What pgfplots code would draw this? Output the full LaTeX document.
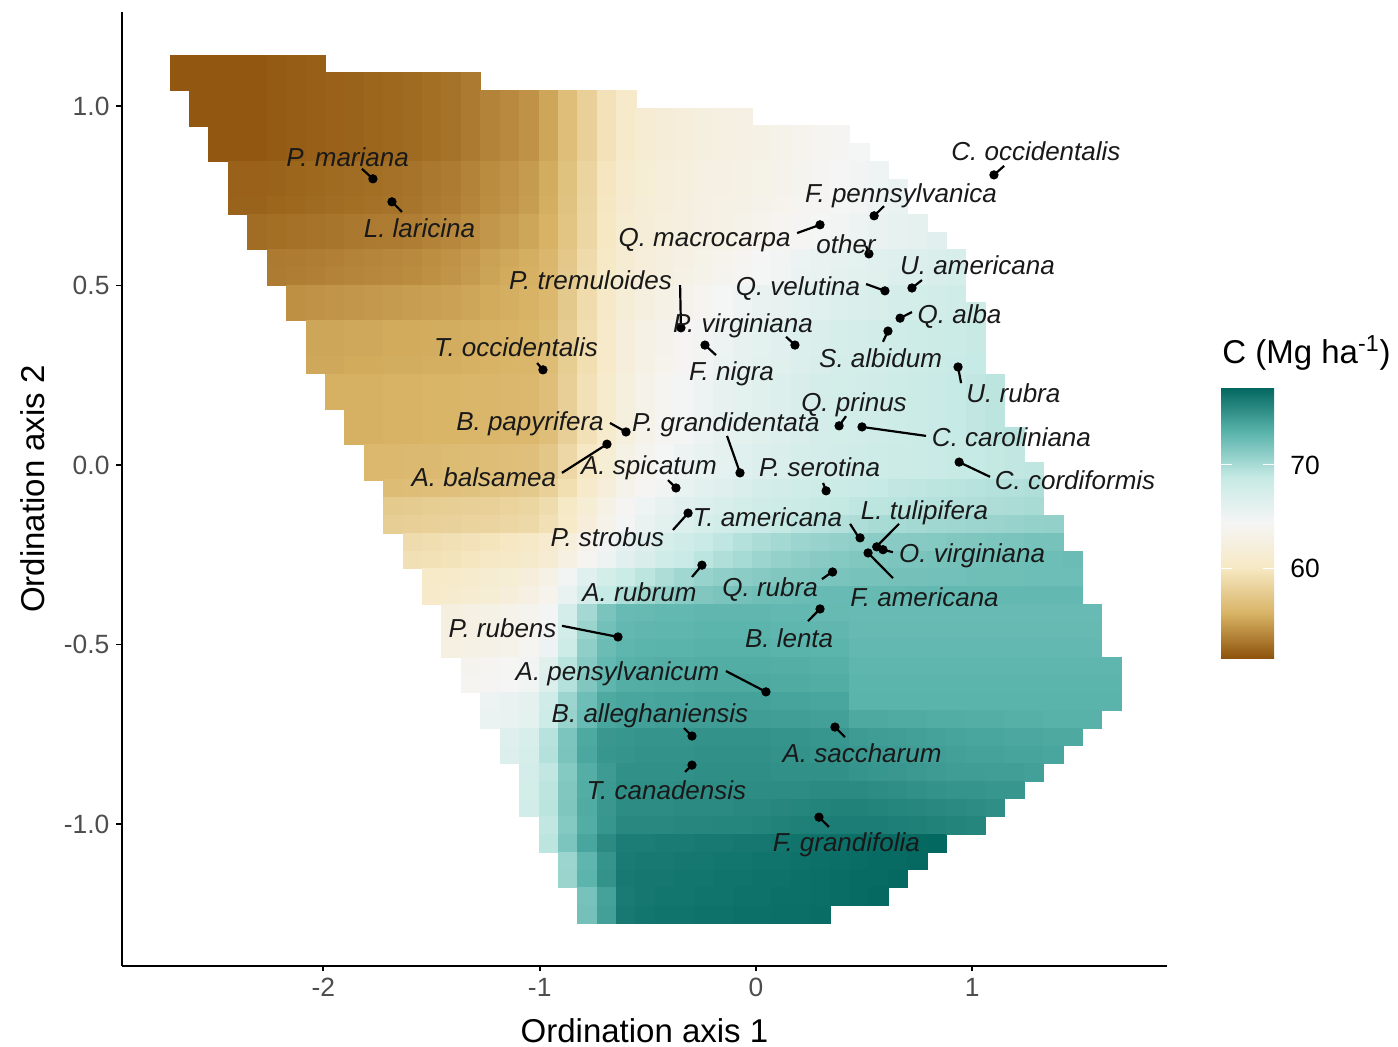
\documentclass[border=0pt]{standalone}
\usepackage{pgfplots}
\pgfplotsset{compat=1.18}
\usepackage{pgfplotstable}
\usepackage{fontspec}
\setmainfont{Liberation Sans}
\definecolor{tickgray}{RGB}{77,77,77}

\pgfplotstableread{
y c0 c1 c2 c3 c4 c5 c6 c7 c8 c9 c10 c11 c12 c13 c14 c15 c16 c17 c18 c19 c20 c21 c22 c23 c24 c25 c26 c27 c28 c29 c30 c31 c32 c33 c34 c35 c36 c37 c38 c39 c40 c41 c42 c43 c44 c45 c46 c47 c48
1.117 51.5 51.5 51.5 51.5 51.5 51.6 51.7 51.8 nan nan nan nan nan  nan nan nan nan nan  nan nan nan nan nan  nan nan nan nan nan  nan nan nan nan nan  nan nan nan nan nan  nan nan nan nan nan  nan nan nan nan nan  nan
1.068 51.5 51.5 51.5 51.5 51.5 51.6 51.7 51.8 51.9 52.0 52.1 52.2 52.3 52.5 52.7 53.0 nan nan nan nan nan  nan nan nan nan nan  nan nan nan nan nan  nan nan nan nan nan  nan nan nan nan nan  nan nan nan nan nan  nan nan nan
1.019 nan 51.5 51.5 51.5 51.5 51.6 51.7 51.8 51.9 52.0 52.1 52.2 52.3 52.5 52.7 53.0 53.4 53.7 54.1 55.0 56.5 58.0 59.5 60.7 nan nan nan nan nan  nan nan nan nan nan  nan nan nan nan nan  nan nan nan nan nan  nan nan nan nan nan
0.969 nan 51.5 51.5 51.5 51.5 51.6 51.7 51.8 51.9 52.0 52.1 52.2 52.3 52.5 52.7 53.0 53.4 53.7 54.1 55.0 56.5 58.0 59.5 60.7 61.4 61.8 62.1 62.4 62.6 62.8 nan nan nan nan nan  nan nan nan nan nan  nan nan nan nan nan  nan nan nan nan
0.920 nan nan 51.5 51.5 51.5 51.6 51.7 51.8 51.9 52.0 52.1 52.2 52.3 52.5 52.7 53.0 53.4 53.7 54.1 55.0 56.5 58.0 59.5 60.7 61.4 61.8 62.1 62.4 62.6 62.8 63.0 63.3 63.6 63.9 64.2 nan nan nan nan nan  nan nan nan nan nan  nan nan nan nan
0.871 nan nan 51.5 51.5 51.5 51.6 51.7 51.8 51.9 52.0 52.1 52.2 52.3 52.5 52.7 53.0 53.4 53.7 54.1 55.0 56.5 58.0 59.5 60.7 61.4 61.8 62.1 62.4 62.6 62.8 63.0 63.3 63.6 63.9 64.2 64.5 nan nan nan nan nan  nan nan nan nan nan  nan nan nan
0.821 nan nan nan 51.9 51.9 52.0 52.1 52.2 52.3 52.4 52.5 52.6 52.7 52.9 53.1 53.4 53.8 54.1 54.5 55.3 56.8 58.3 59.8 61.0 61.6 62.0 62.3 62.6 62.8 63.0 63.2 63.5 63.8 64.1 64.4 64.7 65.0 nan nan nan nan nan  nan nan nan nan nan  nan nan
0.772 nan nan nan 51.9 51.9 52.0 52.1 52.2 52.3 52.4 52.5 52.6 52.7 52.9 53.1 53.4 53.8 54.1 54.5 55.3 56.8 58.3 59.8 61.0 61.6 62.0 62.3 62.6 62.8 63.0 63.2 63.5 63.8 64.1 64.4 64.7 65.0 65.3 nan nan nan nan nan  nan nan nan nan nan  nan
0.723 nan nan nan 52.0 52.0 52.1 52.2 52.3 52.4 52.5 52.6 52.7 52.8 53.0 53.2 53.5 53.9 54.2 54.6 55.4 56.9 58.4 59.9 61.1 61.7 62.1 62.4 62.7 62.9 63.1 63.3 63.6 63.9 64.2 64.5 64.8 65.1 65.4 nan nan nan nan nan  nan nan nan nan nan  nan
0.673 nan nan nan nan 52.4 52.5 52.6 52.7 52.8 52.9 53.0 53.1 53.2 53.4 53.6 53.9 54.3 54.6 55.0 55.6 57.0 58.5 60.0 61.2 61.8 62.2 62.5 62.8 63.0 63.3 63.6 63.9 64.2 64.5 64.8 65.1 65.4 65.7 66.0 nan nan nan nan nan  nan nan nan nan nan
0.624 nan nan nan nan 52.4 52.5 52.6 52.7 52.8 52.9 53.0 53.1 53.2 53.4 53.6 53.9 54.3 54.6 55.0 55.6 57.0 58.5 60.0 61.2 61.8 62.2 62.5 62.8 63.0 63.3 63.6 63.9 64.2 64.5 64.8 65.1 65.4 65.7 66.0 66.3 nan nan nan nan nan  nan nan nan nan
0.575 nan nan nan nan nan 53.0 53.1 53.2 53.3 53.4 53.5 53.6 53.7 53.9 54.1 54.4 54.8 55.1 55.4 55.9 57.3 58.8 60.2 61.4 62.0 62.4 62.8 63.2 63.6 64.0 64.4 64.8 65.2 65.5 65.8 66.1 66.4 66.6 66.8 67.0 67.2 nan nan nan nan nan  nan nan nan
0.525 nan nan nan nan nan 53.1 53.2 53.3 53.4 53.5 53.6 53.7 53.8 54.0 54.2 54.5 54.9 55.2 55.5 56.0 57.4 58.9 60.3 61.5 62.1 62.5 62.9 63.3 63.7 64.1 64.5 64.9 65.3 65.6 65.9 66.2 66.5 66.7 66.9 67.1 67.3 nan nan nan nan nan  nan nan nan
0.476 nan nan nan nan nan nan 54.0 54.1 54.2 54.3 54.4 54.5 54.6 54.7 54.8 55.0 55.2 55.4 55.6 56.0 57.4 58.9 60.4 61.7 62.5 63.0 63.5 64.0 64.5 65.0 65.4 65.8 66.1 66.4 66.7 67.0 67.2 67.4 67.6 67.8 68.0 nan nan nan nan nan  nan nan nan
0.427 nan nan nan nan nan nan 54.0 54.1 54.2 54.3 54.4 54.5 54.6 54.7 54.8 55.0 55.2 55.4 55.6 56.0 57.4 58.9 60.4 61.7 62.5 63.0 63.5 64.0 64.5 65.0 65.4 65.8 66.1 66.4 66.7 67.0 67.2 67.4 67.6 67.8 68.0 68.2 nan nan nan nan nan  nan nan
0.377 nan nan nan nan nan nan nan 55.0 55.0 55.1 55.1 55.2 55.2 55.3 55.3 55.4 55.5 55.6 55.7 56.2 57.6 59.1 60.6 62.0 62.9 63.5 64.1 64.7 65.2 65.7 66.1 66.4 66.7 67.0 67.3 67.5 67.7 67.9 68.1 68.3 68.5 68.7 nan nan nan nan nan  nan nan
0.328 nan nan nan nan nan nan nan 55.0 55.0 55.1 55.1 55.2 55.2 55.3 55.3 55.4 55.5 55.6 55.7 56.2 57.6 59.1 60.6 62.0 62.9 63.5 64.1 64.7 65.2 65.7 66.1 66.4 66.7 67.0 67.3 67.5 67.7 67.9 68.1 68.3 68.5 68.7 nan nan nan nan nan  nan nan
0.279 nan nan nan nan nan nan nan 55.1 55.1 55.2 55.2 55.3 55.3 55.4 55.4 55.5 55.6 55.7 55.8 56.3 57.7 59.2 60.7 62.1 63.0 63.6 64.2 64.8 65.3 65.8 66.2 66.5 66.8 67.1 67.4 67.6 67.8 68.0 68.2 68.4 68.6 68.8 nan nan nan nan nan  nan nan
0.229 nan nan nan nan nan nan nan nan 55.5 55.5 55.5 55.6 55.6 55.7 55.7 55.8 55.8 55.9 56.0 56.5 57.9 59.4 60.9 62.3 63.3 64.0 64.6 65.2 65.7 66.1 66.5 66.8 67.1 67.4 67.6 67.8 68.0 68.2 68.4 68.6 68.8 69.0 69.2 nan nan nan nan nan  nan
0.180 nan nan nan nan nan nan nan nan 55.5 55.5 55.5 55.6 55.6 55.7 55.7 55.8 55.8 55.9 56.0 56.5 57.9 59.4 60.9 62.3 63.3 64.0 64.6 65.2 65.7 66.1 66.5 66.8 67.1 67.4 67.6 67.8 68.0 68.2 68.4 68.6 68.8 69.0 69.2 nan nan nan nan nan  nan
0.131 nan nan nan nan nan nan nan nan nan 55.5 55.5 55.6 55.6 55.7 55.7 55.8 55.8 55.9 56.0 56.5 57.9 59.4 60.9 62.3 63.3 64.0 64.6 65.2 65.7 66.1 66.5 66.8 67.1 67.4 67.6 67.8 68.0 68.2 68.4 68.6 68.8 69.0 69.2 nan nan nan nan nan  nan
0.081 nan nan nan nan nan nan nan nan nan 55.5 55.5 55.6 55.6 55.7 55.7 55.8 55.8 55.9 56.0 56.5 57.9 59.4 60.9 62.3 63.3 64.0 64.6 65.2 65.7 66.1 66.5 66.8 67.1 67.4 67.6 67.8 68.0 68.2 68.4 68.6 68.8 69.0 69.2 69.4 nan nan nan nan nan
0.032 nan nan nan nan nan nan nan nan nan nan 56.0 56.0 56.1 56.1 56.2 56.3 56.4 56.5 56.6 57.2 58.6 60.1 61.6 63.0 63.8 64.5 65.1 65.6 66.0 66.4 66.7 67.0 67.3 67.5 67.7 67.9 68.1 68.3 68.5 68.6 68.7 68.8 68.9 69.0 nan nan nan nan nan
-0.017 nan nan nan nan nan nan nan nan nan nan 56.0 56.0 56.1 56.1 56.2 56.3 56.4 56.5 56.6 57.2 58.6 60.1 61.6 63.0 63.8 64.5 65.1 65.6 66.0 66.4 66.7 67.0 67.3 67.5 67.7 67.9 68.1 68.3 68.5 68.6 68.7 68.8 68.9 69.0 69.1 nan nan nan nan
-0.066 nan nan nan nan nan nan nan nan nan nan nan 56.3 56.4 56.5 56.6 56.8 57.0 57.2 57.4 58.0 59.2 60.6 62.0 63.3 64.2 64.9 65.6 66.2 66.6 67.0 67.4 67.7 68.0 68.2 68.4 68.6 68.8 69.0 69.1 69.2 69.3 69.4 69.5 69.6 69.7 nan nan nan nan
-0.116 nan nan nan nan nan nan nan nan nan nan nan 57.5 57.6 57.7 57.8 57.9 58.0 58.2 58.4 59.0 60.2 61.6 63.0 64.2 65.0 65.7 66.3 66.8 67.2 67.6 67.9 68.2 68.5 68.7 68.9 69.1 69.2 69.3 69.4 69.5 69.6 69.7 69.8 69.9 70.0 nan nan nan nan
-0.165 nan nan nan nan nan nan nan nan nan nan nan 57.8 57.9 58.0 58.1 58.2 58.3 58.5 58.7 59.3 60.5 62.0 63.4 64.6 65.5 66.2 66.8 67.3 67.8 68.2 68.6 68.9 69.2 69.4 69.6 69.8 70.0 70.1 70.2 70.3 70.4 70.5 70.6 70.7 70.8 70.9 nan nan nan
-0.215 nan nan nan nan nan nan nan nan nan nan nan nan 59.0 59.1 59.3 59.5 59.7 60.0 60.4 61.0 62.2 63.5 64.7 65.8 66.6 67.3 68.0 68.6 69.1 69.5 69.9 70.2 70.5 70.7 70.9 71.1 71.2 71.3 71.4 71.5 71.6 71.7 71.8 71.9 72.0 72.0 nan nan nan
-0.264 nan nan nan nan nan nan nan nan nan nan nan nan 59.3 59.4 59.6 59.8 60.1 60.4 60.8 61.5 62.7 64.0 65.2 66.3 67.1 67.9 68.6 69.2 69.7 70.1 70.5 70.8 71.1 71.3 71.5 71.6 71.7 71.8 71.9 72.0 72.1 72.2 72.3 72.3 72.4 72.4 72.5 nan nan
-0.313 nan nan nan nan nan nan nan nan nan nan nan nan nan 60.5 60.7 60.9 61.2 61.6 62.1 63.0 64.8 66.4 67.6 68.5 69.2 69.8 70.3 70.7 71.0 71.2 71.4 71.6 71.7 71.8 71.9 72.0 72.0 72.1 72.1 72.2 72.2 72.3 72.3 72.3 72.4 72.4 72.4 nan nan
-0.363 nan nan nan nan nan nan nan nan nan nan nan nan nan 60.7 60.9 61.2 61.6 62.1 62.7 63.6 65.6 67.4 68.8 69.8 70.4 70.9 71.3 71.6 71.9 72.1 72.3 72.4 72.5 72.6 72.6 72.7 72.7 72.7 72.8 72.8 72.8 72.8 72.8 72.8 72.8 72.8 72.8 nan nan
-0.412 nan nan nan nan nan nan nan nan nan nan nan nan nan nan 62.5 62.8 63.0 63.3 63.8 64.6 67.4 70.2 71.9 72.6 72.7 72.8 72.8 72.9 72.9 72.9 72.9 72.8 72.8 72.7 72.7 72.6 72.6 72.6 72.6 72.6 72.6 72.6 72.6 72.6 72.6 72.6 72.6 72.6 nan
-0.461 nan nan nan nan nan nan nan nan nan nan nan nan nan nan 62.5 62.8 63.0 63.3 63.8 64.8 67.8 70.6 72.2 72.8 72.9 73.0 73.0 73.1 73.1 73.1 73.1 73.0 73.0 72.9 72.9 72.7 72.7 72.7 72.7 72.7 72.7 72.7 72.7 72.7 72.7 72.7 72.7 72.7 nan
-0.511 nan nan nan nan nan nan nan nan nan nan nan nan nan nan 62.6 62.9 63.1 63.4 63.9 65.2 68.2 71.0 72.5 73.0 73.1 73.2 73.2 73.3 73.3 73.3 73.3 73.2 73.2 73.1 73.1 72.8 72.8 72.8 72.8 72.8 72.8 72.8 72.8 72.8 72.8 72.8 72.8 72.8 nan
-0.560 nan nan nan nan nan nan nan nan nan nan nan nan nan nan nan 63.8 64.0 64.3 64.8 66.5 69.3 71.4 72.8 73.3 73.4 73.5 73.5 73.6 73.6 73.6 73.6 73.5 73.5 73.4 73.4 73.0 73.0 73.0 73.0 73.0 73.0 73.0 73.0 73.0 73.0 73.0 73.0 73.0 73.0
-0.609 nan nan nan nan nan nan nan nan nan nan nan nan nan nan nan 63.9 64.1 64.4 64.9 66.7 69.5 71.6 73.0 73.5 73.6 73.7 73.7 73.8 73.8 73.8 73.8 73.7 73.7 73.6 73.6 73.1 73.1 73.1 73.1 73.1 73.1 73.1 73.1 73.1 73.1 73.1 73.1 73.1 73.1
-0.659 nan nan nan nan nan nan nan nan nan nan nan nan nan nan nan nan 65.2 65.5 66.0 68.0 70.5 72.4 73.8 74.0 74.0 74.1 74.1 74.2 74.2 74.2 74.2 74.1 74.1 74.0 74.0 73.2 73.2 73.2 73.2 73.2 73.2 73.2 73.2 73.2 73.2 73.2 73.2 73.2 73.2
-0.708 nan nan nan nan nan nan nan nan nan nan nan nan nan nan nan nan 65.3 65.6 66.1 68.2 70.7 72.6 74.0 74.2 74.3 74.4 74.4 74.5 74.5 74.5 74.5 74.4 74.4 74.3 74.3 73.8 73.8 73.7 73.7 73.6 73.6 73.5 73.5 73.4 73.4 73.3 73.3 73.3 nan
-0.757 nan nan nan nan nan nan nan nan nan nan nan nan nan nan nan nan nan 66.6 67.2 69.4 71.8 73.8 74.8 74.9 75.0 75.0 75.0 75.1 75.1 75.1 75.1 75.0 75.0 74.9 74.9 74.6 74.5 74.4 74.3 74.2 74.1 74.0 74.0 73.9 73.9 73.8 73.8 nan nan
-0.807 nan nan nan nan nan nan nan nan nan nan nan nan nan nan nan nan nan 66.7 67.3 69.5 71.9 73.9 74.9 75.0 75.1 75.1 75.1 75.2 75.2 75.2 75.2 75.1 75.1 75.0 75.0 74.8 74.7 74.6 74.5 74.4 74.3 74.2 74.2 74.1 74.1 74.0 nan nan nan
-0.856 nan nan nan nan nan nan nan nan nan nan nan nan nan nan nan nan nan nan 67.5 69.0 71.5 73.5 74.6 75.2 75.2 75.2 75.2 75.3 75.3 75.3 75.3 75.2 75.2 75.2 75.2 75.0 74.9 74.8 74.7 74.6 74.5 74.5 74.4 74.4 74.3 nan nan nan nan
-0.905 nan nan nan nan nan nan nan nan nan nan nan nan nan nan nan nan nan nan 67.6 69.2 71.6 73.6 74.7 75.3 75.3 75.3 75.4 75.4 75.4 75.4 75.4 75.4 75.4 75.5 75.5 75.5 75.4 75.3 75.2 75.1 75.0 75.0 74.9 74.9 nan nan nan nan nan
-0.955 nan nan nan nan nan nan nan nan nan nan nan nan nan nan nan nan nan nan 67.7 69.3 71.7 73.7 74.8 75.4 75.4 75.4 75.5 75.5 75.5 75.6 75.6 75.7 75.8 75.9 76.0 76.0 75.9 75.8 75.7 75.6 75.5 75.4 75.3 nan nan nan nan nan nan
-1.004 nan nan nan nan nan nan nan nan nan nan nan nan nan nan nan nan nan nan nan 69.0 71.5 73.6 74.9 75.6 75.6 75.6 75.7 75.7 75.8 75.8 75.9 76.0 76.1 76.2 76.3 76.3 76.3 76.2 76.1 76.0 75.9 75.8 nan nan nan nan nan nan nan
-1.053 nan nan nan nan nan nan nan nan nan nan nan nan nan nan nan nan nan nan nan 69.2 71.8 74.0 75.5 76.3 76.3 76.4 76.4 76.5 76.5 76.6 76.6 76.7 76.8 76.9 77.0 77.1 77.2 77.3 77.4 77.5 nan nan nan nan nan nan nan nan nan
-1.103 nan nan nan nan nan nan nan nan nan nan nan nan nan nan nan nan nan nan nan nan 70.5 73.0 75.0 76.4 76.5 76.5 76.6 76.6 76.7 76.7 76.8 76.8 76.9 77.0 77.1 77.2 77.3 77.3 77.4 nan nan nan nan nan nan nan nan nan nan
-1.152 nan nan nan nan nan nan nan nan nan nan nan nan nan nan nan nan nan nan nan nan 70.6 73.1 75.1 76.5 76.6 76.6 76.7 76.7 76.8 76.8 76.9 76.9 77.0 77.1 77.2 77.3 77.3 77.4 nan nan nan nan nan nan nan nan nan nan nan
-1.201 nan nan nan nan nan nan nan nan nan nan nan nan nan nan nan nan nan nan nan nan nan 72.0 74.2 76.4 76.6 76.7 76.7 76.8 76.8 76.9 76.9 77.0 77.0 77.1 77.2 77.3 77.4 nan nan nan nan nan nan nan nan nan nan nan nan
-1.251 nan nan nan nan nan nan nan nan nan nan nan nan nan nan nan nan nan nan nan nan nan 72.1 74.3 76.5 76.7 76.8 76.8 76.9 76.9 77.0 77.0 77.1 77.1 77.2 nan nan nan nan nan nan nan nan nan nan nan nan nan nan nan
}\rast

\pgfplotsset{
  cell/.style={scatter, only marks, mark=square*, mark size=4.43pt,
    scatter/use mapped color={draw=mapped color, fill=mapped color},
    mark options={xscale=1.096, line width=0.35pt}, point meta=explicit},
  seg/.style={black, line width=1.1pt, no marks},
}
\tikzset{lab/.style={font=\fontsize{13}{15}\selectfont\itshape, inner sep=0pt, text height=9.3pt, text depth=0pt, text=black!90}}
% empty cells (nan) are dropped: nan - nan + y stays nan, a value v gives v - v + y = y
\newcommand{\col}[2]{\addplot[cell] table[x expr=#1, y expr={\thisrow{#2}-\thisrow{#2}+\thisrow{y}}, meta=#2]{\rast};}

\begin{document}
\begin{tikzpicture}
\begin{axis}[name=main, scale only axis, width=522.5pt, height=477pt,
  xmin=-2.931, xmax=1.900, ymin=-1.3955, ymax=1.2618,
  clip marker paths=true,
  axis lines=left, axis line style={-, black, line width=1pt},
  tick align=outside, major tick length=2.75pt, tick style={black, line width=0.9pt},
  xtick={-2,-1,0,1}, xticklabels={-2,-1,0,1},
  ytick={-1,-0.5,0,0.5,1}, yticklabels={-1.0,-0.5,0.0,0.5,1.0},
  ticklabel style={font=\fontsize{13.2}{15}\selectfont, text=tickgray},
  xlabel={Ordination axis 1}, ylabel={Ordination axis 2},
  label style={font=\fontsize{16.5}{19}\selectfont, inner sep=0pt},
  xlabel style={at={(axis description cs:0.5,-0.0545)}, anchor=north},
  ylabel style={at={(axis description cs:-0.0737,0.5)}, anchor=south},
  colormap={brbg}{rgb255=(140,81,10) rgb255=(216,179,101) rgb255=(246,232,195) rgb255=(245,245,245) rgb255=(199,234,229) rgb255=(90,180,172) rgb255=(1,102,94)},
  point meta min=51.17, point meta max=77.57,
  colorbar, colorbar/width=26.5pt,
  colorbar style={at={(parent axis.north east)}, anchor=north west,
    xshift=18.5pt, yshift=-187.5pt, scale only axis, width=26.5pt, height=136pt,
    ytick={60,70}, yticklabels={60,70}, yticklabel pos=right, ytick pos=both,
    tick align=inside, major tick length=5.5pt, tick style={white, line width=0.5pt},
    axis line style={draw=none},
    yticklabel style={font=\fontsize{13.2}{15}\selectfont, text=black, xshift=4.6pt}},
  filter discard warning=false, unbounded coords=discard,
]
\col{-2.664}{c0}
\col{-2.574}{c1}
\col{-2.485}{c2}
\col{-2.395}{c3}
\col{-2.305}{c4}
\col{-2.215}{c5}
\col{-2.126}{c6}
\col{-2.036}{c7}
\col{-1.946}{c8}
\col{-1.857}{c9}
\col{-1.767}{c10}
\col{-1.677}{c11}
\col{-1.587}{c12}
\col{-1.498}{c13}
\col{-1.408}{c14}
\col{-1.318}{c15}
\col{-1.228}{c16}
\col{-1.139}{c17}
\col{-1.049}{c18}
\col{-0.959}{c19}
\col{-0.869}{c20}
\col{-0.780}{c21}
\col{-0.690}{c22}
\col{-0.600}{c23}
\col{-0.511}{c24}
\col{-0.421}{c25}
\col{-0.331}{c26}
\col{-0.241}{c27}
\col{-0.152}{c28}
\col{-0.062}{c29}
\col{0.028}{c30}
\col{0.118}{c31}
\col{0.207}{c32}
\col{0.297}{c33}
\col{0.387}{c34}
\col{0.477}{c35}
\col{0.566}{c36}
\col{0.656}{c37}
\col{0.746}{c38}
\col{0.835}{c39}
\col{0.925}{c40}
\col{1.015}{c41}
\col{1.105}{c42}
\col{1.194}{c43}
\col{1.284}{c44}
\col{1.374}{c45}
\col{1.464}{c46}
\col{1.553}{c47}
\col{1.643}{c48}

\addplot[seg] coordinates {(-1.771,0.797)(-1.822,0.825)};
\addplot[seg] coordinates {(-1.683,0.733)(-1.637,0.705)};
\addplot[seg] coordinates {(0.296,0.669)(0.190,0.646)};
\addplot[seg] coordinates {(0.546,0.694)(0.592,0.721)};
\addplot[seg] coordinates {(1.100,0.808)(1.147,0.833)};
\addplot[seg] coordinates {(0.522,0.588)(0.509,0.610)};
\addplot[seg] coordinates {(0.721,0.493)(0.767,0.515)};
\addplot[seg] coordinates {(0.596,0.485)(0.509,0.504)};
\addplot[seg] coordinates {(-0.347,0.382)(-0.351,0.501)};
\addplot[seg] coordinates {(0.666,0.409)(0.721,0.426)};
\addplot[seg] coordinates {(0.180,0.334)(0.139,0.357)};
\addplot[seg] coordinates {(-0.985,0.265)(-1.012,0.284)};
\addplot[seg] coordinates {(0.610,0.373)(0.587,0.343)};
\addplot[seg] coordinates {(-0.236,0.334)(-0.185,0.306)};
\addplot[seg] coordinates {(0.934,0.273)(0.948,0.228)};
\addplot[seg] coordinates {(0.384,0.109)(0.416,0.136)};
\addplot[seg] coordinates {(-0.601,0.092)(-0.675,0.117)};
\addplot[seg] coordinates {(-0.074,-0.022)(-0.134,0.081)};
\addplot[seg] coordinates {(0.490,0.106)(0.786,0.081)};
\addplot[seg] coordinates {(-0.370,-0.064)(-0.407,-0.042)};
\addplot[seg] coordinates {(0.324,-0.072)(0.310,-0.050)};
\addplot[seg] coordinates {(-0.689,0.058)(-0.897,-0.022)};
\addplot[seg] coordinates {(0.939,0.008)(1.082,-0.033)};
\addplot[seg] coordinates {(0.476,-0.203)(0.435,-0.164)};
\addplot[seg] coordinates {(0.559,-0.226)(0.661,-0.164)};
\addplot[seg] coordinates {(-0.314,-0.134)(-0.384,-0.181)};
\addplot[seg] coordinates {(0.587,-0.236)(0.633,-0.243)};
\addplot[seg] coordinates {(-0.250,-0.279)(-0.296,-0.312)};
\addplot[seg] coordinates {(0.351,-0.298)(0.305,-0.318)};
\addplot[seg] coordinates {(0.518,-0.245)(0.633,-0.315)};
\addplot[seg] coordinates {(-0.638,-0.479)(-0.897,-0.448)};
\addplot[seg] coordinates {(0.296,-0.401)(0.240,-0.435)};
\addplot[seg] coordinates {(0.046,-0.632)(-0.139,-0.574)};
\addplot[seg] coordinates {(-0.296,-0.755)(-0.333,-0.733)};
\addplot[seg] coordinates {(0.365,-0.730)(0.411,-0.758)};
\addplot[seg] coordinates {(-0.296,-0.836)(-0.328,-0.855)};
\addplot[seg] coordinates {(0.291,-0.981)(0.337,-1.008)};

\addplot[only marks, mark=*, mark size=2.1pt, black] coordinates {(-1.771,0.797) (-1.683,0.733) (0.296,0.669) (0.546,0.694) (1.100,0.808) (0.522,0.588) (0.721,0.493) (0.596,0.485) (-0.347,0.382) (0.666,0.409) (0.180,0.334) (-0.985,0.265) (0.610,0.373) (-0.236,0.334) (0.934,0.273) (0.384,0.109) (-0.601,0.092) (-0.074,-0.022) (0.490,0.106) (-0.370,-0.064) (0.324,-0.072) (-0.689,0.058) (0.939,0.008) (0.481,-0.203) (0.558,-0.228) (-0.314,-0.134) (0.587,-0.236) (-0.250,-0.279) (0.354,-0.298) (0.518,-0.245) (-0.638,-0.479) (0.296,-0.401) (0.046,-0.632) (-0.296,-0.755) (0.365,-0.730) (-0.296,-0.836) (0.291,-0.981)};

\node[lab] at (axis cs:-1.888,0.858) {P. mariana};
\node[lab] at (axis cs:-1.556,0.660) {L. laricina};
\node[lab] at (axis cs:-0.238,0.635) {Q. macrocarpa};
\node[lab] at (axis cs:0.670,0.758) {F. pennsylvanica};
\node[lab] at (axis cs:1.294,0.875) {C. occidentalis};
\node[lab] at (axis cs:0.416,0.616) {other};
\node[lab] at (axis cs:1.024,0.557) {U. americana};
\node[lab] at (axis cs:0.194,0.499) {Q. velutina};
\node[lab] at (axis cs:-0.765,0.515) {P. tremuloides};
\node[lab] at (axis cs:0.941,0.421) {Q. alba};
\node[lab] at (axis cs:-0.060,0.396) {P. virginiana};
\node[lab] at (axis cs:-1.110,0.329) {T. occidentalis};
\node[lab] at (axis cs:0.576,0.298) {S. albidum};
\node[lab] at (axis cs:-0.113,0.262) {F. nigra};
\node[lab] at (axis cs:1.190,0.201) {U. rubra};
\node[lab] at (axis cs:0.453,0.175) {Q. prinus};
\node[lab] at (axis cs:-1.045,0.123) {B. papyrifera};
\node[lab] at (axis cs:-0.139,0.120) {P. grandidentata};
\node[lab] at (axis cs:1.181,0.078) {C. caroliniana};
\node[lab] at (axis cs:-0.495,0.000) {A. spicatum};
\node[lab] at (axis cs:0.294,-0.006) {P. serotina};
\node[lab] at (axis cs:-1.258,-0.033) {A. balsamea};
\node[lab] at (axis cs:1.475,-0.042) {C. cordiformis};
\node[lab] at (axis cs:0.053,-0.145) {T. americana};
\node[lab] at (axis cs:0.779,-0.125) {L. tulipifera};
\node[lab] at (axis cs:-0.687,-0.201) {P. strobus};
\node[lab] at (axis cs:0.999,-0.245) {O. virginiana};
\node[lab] at (axis cs:-0.539,-0.354) {A. rubrum};
\node[lab] at (axis cs:0.065,-0.340) {Q. rubra};
\node[lab] at (axis cs:0.779,-0.368) {F. americana};
\node[lab] at (axis cs:-1.172,-0.454) {P. rubens};
\node[lab] at (axis cs:0.153,-0.482) {B. lenta};
\node[lab] at (axis cs:-0.640,-0.574) {A. pensylvanicum};
\node[lab] at (axis cs:-0.490,-0.691) {B. alleghaniensis};
\node[lab] at (axis cs:0.490,-0.802) {A. saccharum};
\node[lab] at (axis cs:-0.414,-0.905) {T. canadensis};
\node[lab] at (axis cs:0.418,-1.050) {F. grandifolia};
\end{axis}
\node[anchor=base west, inner sep=0pt, font=\fontsize{16.5}{19}\selectfont] at ([xshift=550pt,yshift=301pt]main.south west) {C (Mg ha\textsuperscript{-1})};
\path ([xshift=-61pt,yshift=-40.5pt]main.south west) rectangle ([xshift=638pt,yshift=483pt]main.south west);
\end{tikzpicture}
\end{document}
